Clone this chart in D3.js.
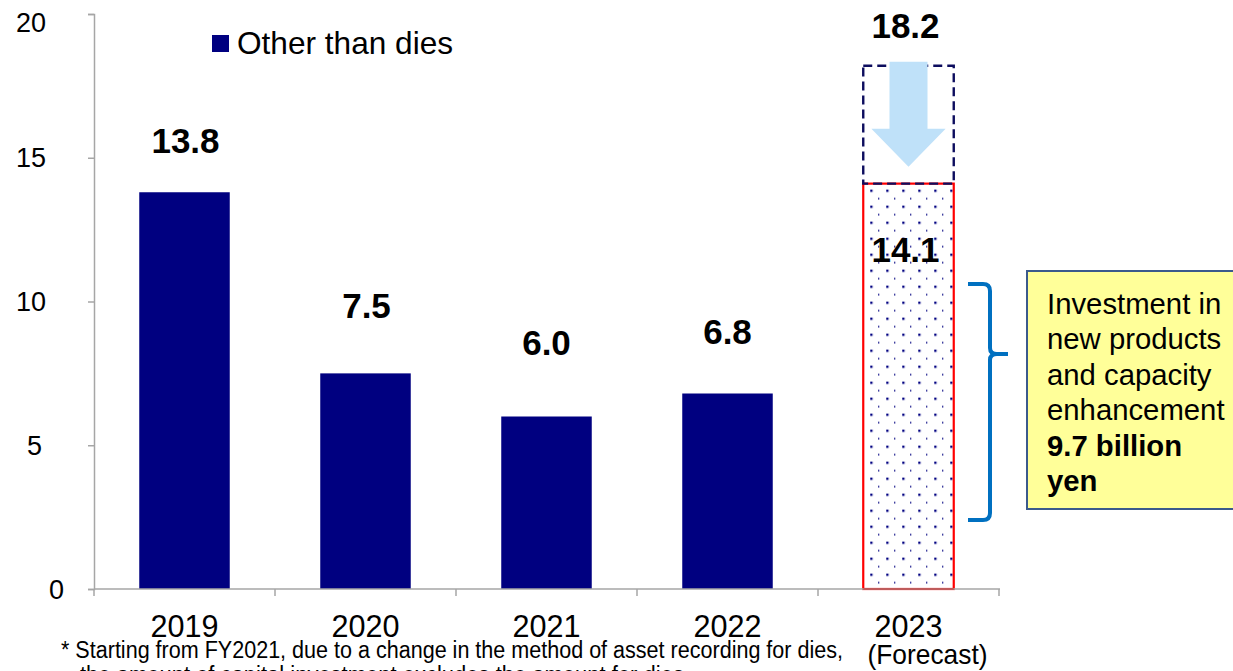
<!DOCTYPE html>
<html>
<head>
<meta charset="utf-8">
<script src="https://cdn.jsdelivr.net/npm/d3@7"></script>
<style>
  html, body { margin: 0; padding: 0; background: #fff; overflow: hidden; }
  svg { display: block; font-family: "Liberation Sans", Arial, sans-serif; }
</style>
</head>
<body>
<svg id="chart" width="1233" height="671"></svg>
<script>
// Capital investment (billion yen), excluding dies
const years = ["2019", "2020", "2021", "2022", "2023"];
const values = [13.8, 7.5, 6.0, 6.8, 14.1];
const forecastPlanTotal = 18.2;
const yTicks = [0, 5, 10, 15, 20];
const legendLabel = "Other than dies";
const forecastSubLabel = "(Forecast)";
const noteLines = [
  "*  Starting from FY2021, due to a change in the method of asset recording for dies,",
  "the amount of capital investment excludes the amount for dies."
];
const calloutLines = ["Investment in", "new products", "and capacity", "enhancement"];
const calloutBold = ["9.7 billion", "yen"];

// ---- layout ----
const W = 1233, H = 671;
const x0 = 94, x1 = 999, yBase = 589, yTop = 14;
const NAVY = "#000080";
const AXIS = "#a6a6a6";
// vertical gap (px) between a bar's top and its value label baseline
const labelLift = [39, 55, 62, 50, -78];
const labelShiftX = [1, 1, 0, 0, -3];

const svg = d3.select("#chart");

const x = d3.scaleBand().domain(years).range([x0, x1]).paddingInner(0.5).paddingOuter(0.25);
const y = d3.scaleLinear().domain([0, 20]).range([yBase, yTop]);

// dotted fill for the forecast bar (staggered rows every 8px)
const defs = svg.append("defs");
const pat = defs.append("pattern")
  .attr("id", "dots").attr("patternUnits", "userSpaceOnUse")
  .attr("width", 16).attr("height", 16)
  .attr("x", x("2023")).attr("y", y(values[4]));
pat.append("rect").attr("x", 7).attr("y", 6).attr("width", 2.3).attr("height", 2.3).attr("fill", NAVY);
pat.append("rect").attr("x", 15).attr("y", 14).attr("width", 2.3).attr("height", 2.3).attr("fill", NAVY);

// y axis
const yAxis = svg.append("g")
  .attr("transform", `translate(${x0},0)`)
  .call(d3.axisLeft(y).tickValues(yTicks).tickSize(6).tickPadding(48).tickFormat(d3.format("d")));
yAxis.select(".domain").attr("stroke", AXIS).attr("stroke-width", 1.5);
yAxis.selectAll(".tick line").attr("stroke", AXIS).attr("stroke-width", 1.5);
const tickNudge = { 0: [18, 0], 5: [-4, 0], 20: [0, 8] };
yAxis.selectAll(".tick text")
  .attr("font-size", 27).attr("fill", "#000")
  .attr("font-family", "'Liberation Sans', Arial, sans-serif")
  .attr("x", d => -48 + (tickNudge[d] ? tickNudge[d][0] : 0))
  .attr("dy", d => (tickNudge[d] ? tickNudge[d][1] : 0) + 9);

// category labels
const cx = d => x(d) + x.bandwidth() / 2;
svg.append("g").selectAll("text").data(years).join("text")
  .attr("x", d => cx(d)).attr("y", 637)
  .attr("text-anchor", "middle").attr("font-size", 31).attr("fill", "#000")
  .attr("textLength", 68).attr("lengthAdjust", "spacingAndGlyphs")
  .text(d => d);
svg.append("text").attr("x", cx("2023") + 19).attr("y", 664)
  .attr("text-anchor", "middle").attr("font-size", 28).attr("fill", "#000")
  .attr("textLength", 120).attr("lengthAdjust", "spacingAndGlyphs")
  .text(forecastSubLabel);

// actual bars
svg.append("g").selectAll("rect").data(values.slice(0, 4)).join("rect")
  .attr("x", (d, i) => x(years[i])).attr("width", x.bandwidth())
  .attr("y", d => y(d)).attr("height", d => yBase - y(d))
  .attr("fill", NAVY);

// forecast bar: dotted with red outline
const fx = x("2023"), fw = x.bandwidth();
svg.append("rect")
  .attr("x", fx).attr("width", fw)
  .attr("y", y(values[4])).attr("height", yBase - y(values[4]))
  .attr("fill", "url(#dots)").attr("stroke", "#ff0000").attr("stroke-width", 2.2);

// original plan portion, dashed outline
svg.append("rect")
  .attr("x", fx).attr("width", fw)
  .attr("y", y(forecastPlanTotal)).attr("height", y(values[4]) - y(forecastPlanTotal))
  .attr("fill", "none").attr("stroke", "#0d0d5e").attr("stroke-width", 2.4)
  .attr("stroke-dasharray", "9,5");

// x axis line with ticks at category boundaries
const xg = svg.append("g");
xg.append("line").attr("x1", x0).attr("x2", x1 + 1).attr("y1", yBase).attr("y2", yBase)
  .attr("stroke", AXIS).attr("stroke-width", 1.5);
const bounds = [x0].concat(years.map(d => x(d) - x.step() * x.paddingInner() / 2 + x.step()));
xg.selectAll("line.b").data(bounds).join("line").attr("class", "b")
  .attr("x1", d => d).attr("x2", d => d).attr("y1", yBase).attr("y2", yBase + 7)
  .attr("stroke", AXIS).attr("stroke-width", 1.5);
// the forecast bar's lower edge blends with the axis
xg.append("line").attr("x1", fx).attr("x2", fx + fw).attr("y1", yBase).attr("y2", yBase)
  .attr("stroke", "#c05050").attr("stroke-width", 1.5);

// downward arrow from plan to forecast
const ac = fx + fw / 2;
const aTop = y(forecastPlanTotal) - 4, aTip = y(values[4]) - 17, aNeck = aTip - 38;
const shaftHalf = fw * 0.21, headHalf = fw * 0.41;
svg.append("path")
  .attr("d", `M${ac - shaftHalf},${aTop} H${ac + shaftHalf} V${aNeck} H${ac + headHalf} L${ac},${aTip} L${ac - headHalf},${aNeck} H${ac - shaftHalf} Z`)
  .attr("fill", "#bfe1f9");

// value labels
svg.append("g").selectAll("text").data(values).join("text")
  .attr("x", (d, i) => cx(years[i]) + labelShiftX[i]).attr("y", (d, i) => y(d) - labelLift[i])
  .attr("text-anchor", "middle").attr("font-size", 35).attr("font-weight", "bold").attr("fill", "#000")
  .text(d => d.toFixed(1));
svg.append("text")
  .attr("x", cx("2023") - 3).attr("y", y(forecastPlanTotal) - 28)
  .attr("text-anchor", "middle").attr("font-size", 35).attr("font-weight", "bold").attr("fill", "#000")
  .text(forecastPlanTotal.toFixed(1));

// legend
svg.append("rect").attr("x", 212).attr("y", 35).attr("width", 17).attr("height", 17).attr("fill", NAVY);
svg.append("text").attr("x", 237).attr("y", 54).attr("font-size", 31.6).attr("fill", "#000").text(legendLabel);

// brace
const bTop = 284, bMid = 354, bBot = 520, bx = 990;
svg.append("path")
  .attr("d", `M968,${bTop} H983 Q${bx},${bTop} ${bx},${bTop + 7} V${bMid - 6} Q${bx},${bMid} ${bx + 7},${bMid} H1008 M${bx + 7},${bMid} Q${bx},${bMid} ${bx},${bMid + 6} V${bBot - 7} Q${bx},${bBot} 983,${bBot} H968`)
  .attr("fill", "none").attr("stroke", "#0070c0").attr("stroke-width", 4);

// callout box
svg.append("rect").attr("x", 1027).attr("y", 271).attr("width", 230).attr("height", 238)
  .attr("fill", "#ffff99").attr("stroke", "#3b5a8c").attr("stroke-width", 2);
const callout = svg.append("text").attr("font-size", 29.3).attr("fill", "#000");
calloutLines.concat(calloutBold).forEach((t, i) => {
  callout.append("tspan").attr("x", 1047).attr("y", 314 + i * 35.4)
    .attr("font-weight", i >= calloutLines.length ? "bold" : "normal").text(t);
});

// footnote
svg.append("text").attr("x", 61).attr("y", 658).attr("font-size", 23.5).attr("fill", "#000")
  .attr("textLength", 782).attr("lengthAdjust", "spacingAndGlyphs").text(noteLines[0]);
svg.append("text").attr("x", 80).attr("y", 683).attr("font-size", 23.5).attr("fill", "#000")
  .attr("textLength", 610).attr("lengthAdjust", "spacingAndGlyphs").text(noteLines[1]);
</script>
</body>
</html>
